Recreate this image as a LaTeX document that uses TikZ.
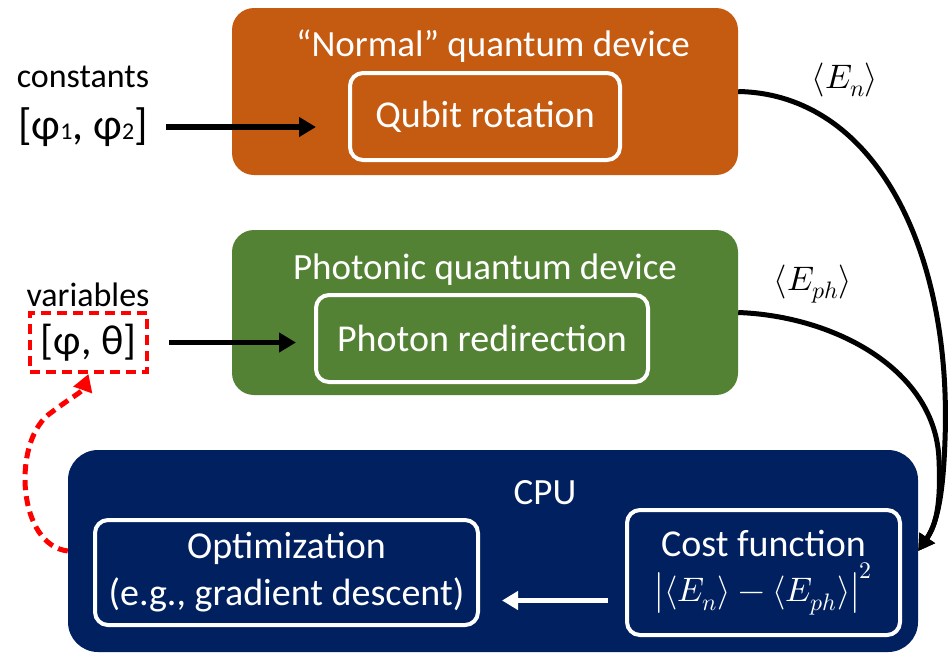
\documentclass[tikz,border=0pt]{standalone}
\usepackage{fontspec}
\usepackage{unicode-math}
\setmainfont{Carlito}
\setmathfont{Latin Modern Math}
\usetikzlibrary{arrows.meta}
\definecolor{orangeC}{HTML}{C55A11}
\definecolor{greenC}{HTML}{548235}
\definecolor{navyC}{HTML}{002060}
\tikzset{
  bigbox/.style={rounded corners=22pt, draw=none, inner sep=0pt},
  innerbox/.style={rounded corners=13pt, draw=white, line width=4pt, inner sep=0pt, text=white, align=center},
  titletext/.style={text=white, font=\fontsize{37}{44}\selectfont, inner sep=0pt},
  innertext/.style={font=\fontsize{38}{47}\selectfont},
  sidetext/.style={font=\fontsize{34}{40}\selectfont, inner sep=0pt},
  blackarrow/.style={line width=5.5pt, -{Triangle[length=17pt,width=19pt]}},
  curvearrow/.style={line width=5pt, -{Triangle[length=16pt,width=18pt]}},
  whitearrow/.style={draw=white, line width=5pt, -{Triangle[length=16pt,width=18pt]}},
  reddash/.style={draw=red, line width=4pt, dash pattern=on 10pt off 6pt},
  mathlabel/.style={font=\fontsize{34}{40}\selectfont, inner sep=0pt}
}
\begin{document}
\begin{tikzpicture}[x=1pt, y=-1pt]
\useasboundingbox (0,0) rectangle (949,657);
% orange
\node[bigbox, fill=orangeC, minimum width=506pt, minimum height=167pt] (normal) at (485,91.5) {};
\node[titletext] (normalt) at (493,46) {“Normal” quantum device};
\node[innerbox, innertext, minimum width=270pt, minimum height=87pt] (qubit) at (485,116.5) {Qubit rotation};
% green
\node[bigbox, fill=greenC, minimum width=506pt, minimum height=165pt] (green) at (485,312.5) {};
\node[titletext] (greent) at (485,270) {Photonic quantum device};
\node[innerbox, innertext, minimum width=332pt, minimum height=87pt] (photon) at (482,338.5) {Photon redirection};
% navy
\node[bigbox, rounded corners=30pt, fill=navyC, minimum width=850pt, minimum height=202pt] (cpu) at (493,551) {};
\node[titletext] (cput) at (545,493) {CPU};
\node[innerbox, innertext, minimum width=383pt, minimum height=105pt] (opt) at (286.5,572.5) {Optimization\\(e.g., gradient descent)};
\node[innerbox, innertext, minimum width=273pt, minimum height=125pt] (cost) at (763.5,572.5) {Cost function\\[-2pt]{\fontsize{34}{40}\selectfont$\left|\langle E_n\rangle-\langle E_{ph}\rangle\right|^2$}};
% left texts
\node[sidetext] (const) at (83,77) {constants};
\node[font=\fontsize{44}{48}\selectfont, inner sep=0pt] (phi1) at (83,127) {[φ{\fontsize{24}{24}\selectfont 1}, φ{\fontsize{24}{24}\selectfont 2}]};
\node[sidetext] (vars) at (88,295) {variables};
\node[reddash, font=\fontsize{42}{46}\selectfont, minimum width=117pt, minimum height=59pt, inner sep=0pt] (varbox) at (88.5,342.5) {[φ, θ]};
% arrows
\draw[blackarrow] ([xshift=18pt]phi1.east) -- ([xshift=-32pt]phi1.east -| qubit.west);
\draw[blackarrow] ([xshift=20pt]varbox.east) -- ([xshift=-18pt]varbox.east -| photon.west);
\draw[whitearrow] ([yshift=-28pt,xshift=-17pt]cost.west) -- ([yshift=-28pt,xshift=22pt]opt.east);
% feedback
\draw[reddash, line width=5pt, -{Triangle[length=17pt,width=19pt]}] (cpu.west) .. controls (18,545) and (12,445) .. (48,415) .. controls (70,398) and (82,392) .. (varbox.south);
% curves
\draw[curvearrow] (normal.east) .. controls (875,94) and (952,250) .. (945,440) .. controls (943,500) and (936,525) .. (cpu.east);
\draw[curvearrow] (green.east) .. controls (835,316) and (936,370) .. (939,460) .. controls (941,505) and (936,525) .. (cpu.east);
\node[mathlabel] (en) at (845,80) {$\langle E_n\rangle$};
\node[mathlabel] (eph) at (813,284) {$\langle E_{ph}\rangle$};
\end{tikzpicture}
\end{document}
